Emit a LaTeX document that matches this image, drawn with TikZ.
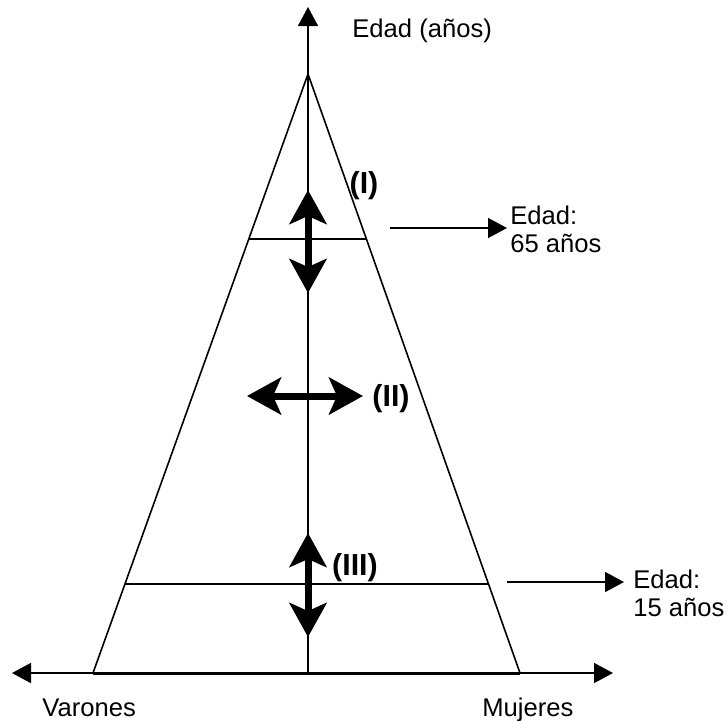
\documentclass[tikz,border=0pt]{standalone}
\usepackage{fontspec}
\setmainfont{Liberation Sans}
\usetikzlibrary{arrows.meta,positioning,calc}

\begin{document}
\begin{tikzpicture}[x=0.5pt,y=-0.5pt,
  thinline/.style={line width=0.8pt},
  axis/.style={line width=0.8pt,-{Triangle[length=9.5pt,width=10pt]}},
  bigarrow/.style={line width=3.5pt,{Stealth[length=17pt,width=18.5pt,inset=4pt]}-{Stealth[length=17pt,width=18.5pt,inset=4pt]}},
  lbl/.style={inner sep=0pt,align=left,font=\fontsize{12.8}{14}\selectfont},
  roman/.style={inner sep=0pt,font=\fontsize{15.2}{17}\selectfont\bfseries}]
  \useasboundingbox (0,0) rectangle (727,720);
  \coordinate (apex) at (308,74);
  \coordinate (bl) at (93,673);
  \coordinate (br) at (520,673);
  \coordinate (o) at (308,673);
  \coordinate (ytop) at (308,7);
  \coordinate (xleft) at (12,673);
  \coordinate (xright) at (613,673);
  \coordinate (c65l) at ($(apex)!0.2755!(bl)$);
  \coordinate (c65r) at ($(apex)!0.2755!(br)$);
  \coordinate (c15l) at ($(apex)!0.8514!(bl)$);
  \coordinate (c15r) at ($(apex)!0.8514!(br)$);
  \coordinate (a1t) at (308,190); \coordinate (a1b) at (308,293);
  \coordinate (a2l) at (247,396); \coordinate (a2r) at (363,396);
  \coordinate (a3t) at (308,533); \coordinate (a3b) at (308,637);
  \coordinate (p65s) at (390,228); \coordinate (p65e) at (507,228);
  \coordinate (p15s) at (507,582); \coordinate (p15e) at (624,582);

  \draw[thinline] (bl) -- (apex) -- (br);
  \draw[line width=1.5pt] (bl) -- (br);
  \draw[axis] (o) -- (ytop);
  \draw[axis] (o) -- (xleft);
  \draw[axis] (o) -- (xright);
  \draw[thinline] (c65l) -- (c65r);
  \draw[thinline] (c15l) -- (c15r);
  \draw[bigarrow] (a1t) -- (a1b);
  \draw[bigarrow] (a2l) -- (a2r);
  \draw[bigarrow] (a3t) -- (a3b);
  \draw[axis] (p65s) -- (p65e);
  \draw[axis] (p15s) -- (p15e);

  \node[lbl,anchor=base west] (edad) at (352,37) {Edad (años)};
  \node[lbl,anchor=base west] (varones) at (42,716) {Varones};
  \node[lbl,anchor=base west] (mujeres) at (482,716) {Mujeres};
  \node[lbl,anchor=north west] (e65) at (510,206) {Edad:\\65 años};
  \node[lbl,anchor=north west] (e15) at (633,570) {Edad:\\15 años};
  \node[roman] (r1) at (364,186) {(I)};
  \node[roman] (r2) at (391,399) {(II)};
  \node[roman] (r3) at (355,568) {(III)};
\end{tikzpicture}
\end{document}
